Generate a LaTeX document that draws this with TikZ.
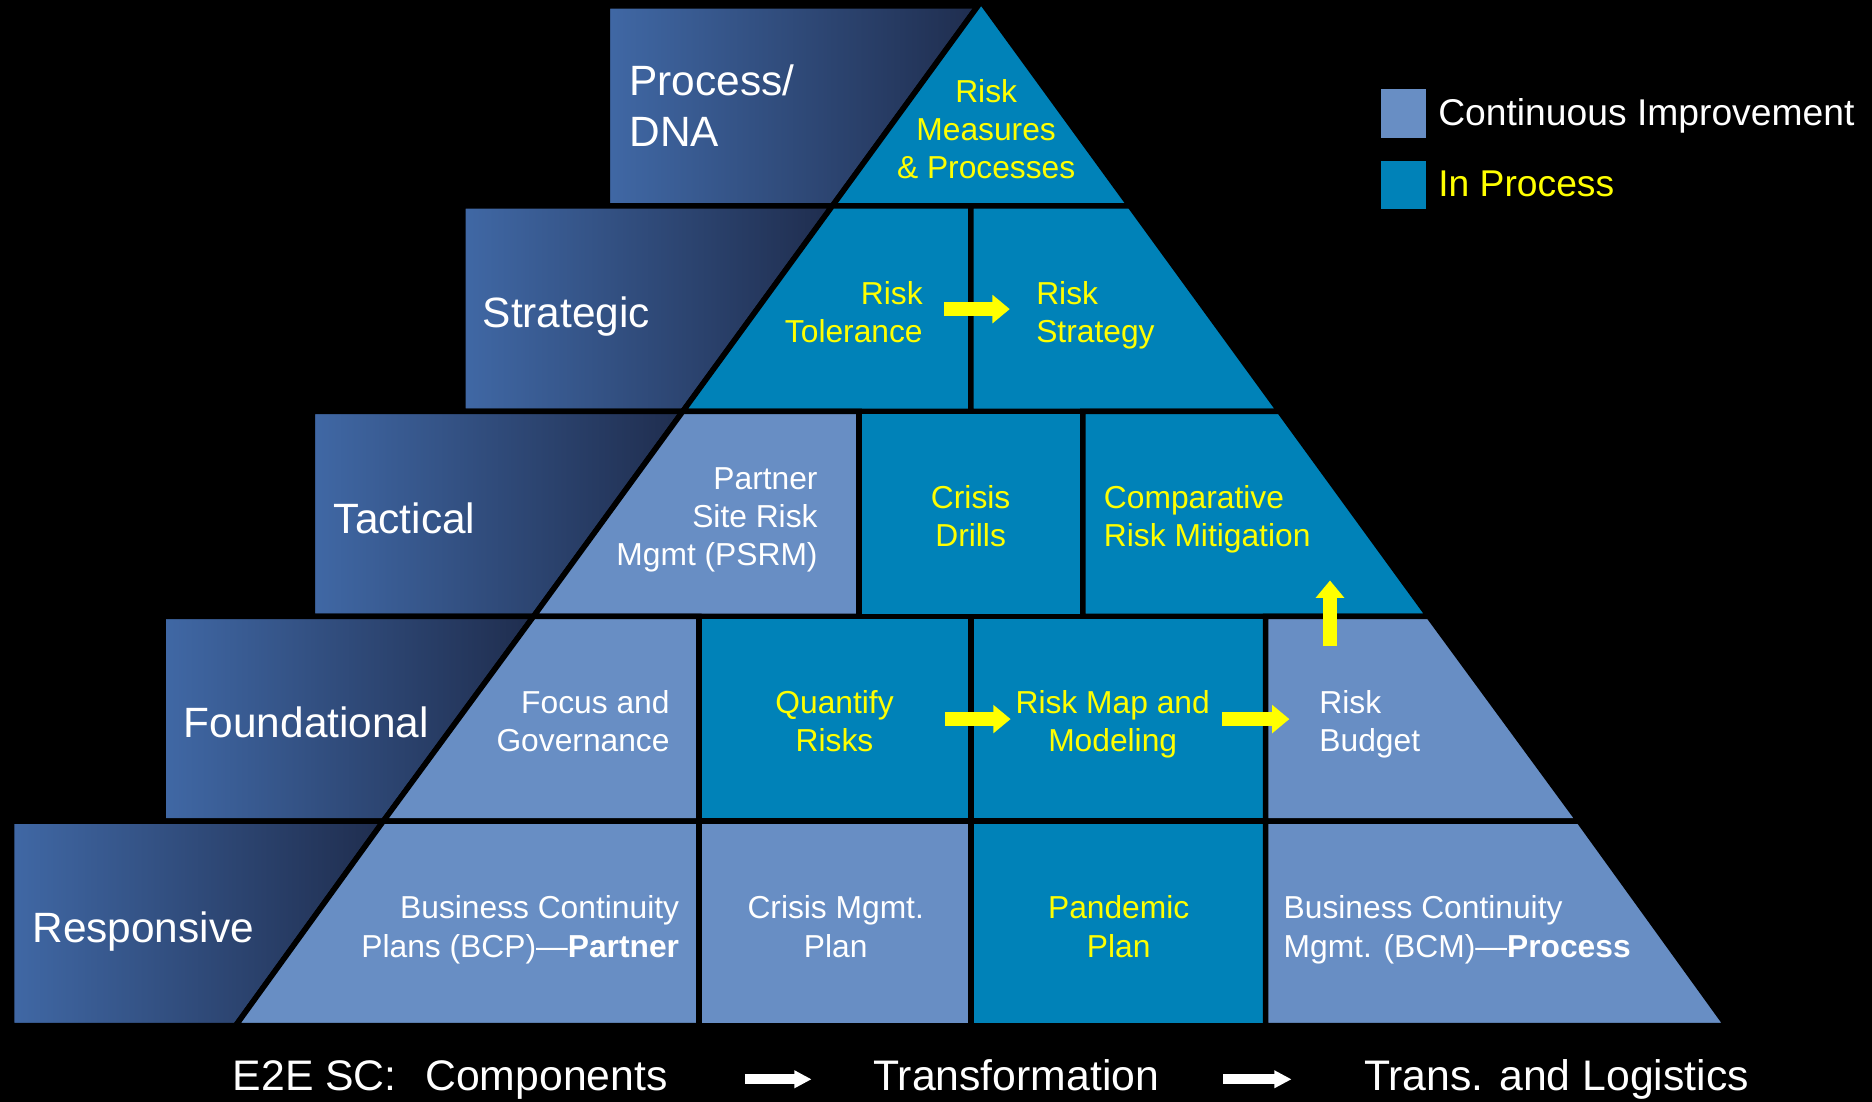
\documentclass[tikz,border=0pt]{standalone}
\usepackage{fontspec}
\setmainfont{Liberation Sans}
\usetikzlibrary{arrows.meta,calc}
\definecolor{inproc}{RGB}{0,130,184}
\definecolor{cont}{RGB}{104,142,196}
\definecolor{gradL}{RGB}{64,104,165}
\definecolor{gradR}{RGB}{31,45,78}
\definecolor{ylw}{RGB}{255,255,0}
\newcommand\mystrut{\strut}
\tikzset{
  cell/.style={draw=black, line width=4.6pt, line join=miter},
  ci/.style={cell, fill=cont},
  ip/.style={cell, fill=inproc},
  lvl/.style={cell, left color=gradL, right color=gradR},
  ctext/.style={inner sep=0pt, font=\fontsize{26.6}{32}\selectfont},
  wt/.style={ctext, text=white},
  yt/.style={ctext, text=ylw},
  lvltext/.style={inner sep=0pt, text=white, font=\fontsize{35.5}{42.5}\selectfont, align=left, anchor=north west},
  legtext/.style={inner sep=0pt, font=\fontsize{31.2}{37}\selectfont, anchor=base west},
  axtext/.style={inner sep=0pt, text=white, font=\fontsize{35.8}{42}\selectfont, anchor=base west},
  yarrow/.style={draw=ylw, line width=12pt, -{Triangle[length=14.5pt, width=23pt]}},
  warrow/.style={draw=white, line width=8.4pt, -{Triangle[length=14.4pt, width=14pt]}},
}
\begin{document}
\begin{tikzpicture}[x=1pt, y=-1pt]
\path[use as bounding box] (0,0) rectangle (1568,923);
\fill[black] (0,0) rectangle (1568,923);

% Row 1
\path[lvl] (508.7,5) -- (819.08,5) -- (697.23,172.4) -- (508.7,172.4) -- cycle;
\path[ip] (821.85,1.2) -- (946.47,172.4) -- (697.23,172.4) -- cycle;
% Row 2
\path[lvl] (387.7,172.4) -- (697.23,172.4) -- (571.96,344.5) -- (387.7,344.5) -- cycle;
\path[ip] (697.23,172.4) -- (813.1,172.4) -- (813.1,344.5) -- (571.96,344.5) -- cycle;
\path[ip] (813.1,172.4) -- (946.47,172.4) -- (1071.74,344.5) -- (813.1,344.5) -- cycle;
% Row 3
\path[lvl] (261.7,344.5) -- (571.96,344.5) -- (446.98,516.2) -- (261.7,516.2) -- cycle;
\path[ci] (571.96,344.5) -- (719.5,344.5) -- (719.5,516.2) -- (446.98,516.2) -- cycle;
\path[ip] (719.5,344.5) -- (907.1,344.5) -- (907.1,516.2) -- (719.5,516.2) -- cycle;
\path[ip] (907.1,344.5) -- (1071.74,344.5) -- (1196.72,516.2) -- (907.1,516.2) -- cycle;
% Row 4
\path[lvl] (136.7,516.2) -- (446.98,516.2) -- (321.07,687.8) -- (136.7,687.8) -- cycle;
\path[ci] (446.98,516.2) -- (585.3,516.2) -- (585.3,687.8) -- (321.07,687.8) -- cycle;
\path[ip] (585.3,516.2) -- (813.3,516.2) -- (813.3,687.8) -- (585.3,687.8) -- cycle;
\path[ip] (813.3,516.2) -- (1060,516.2) -- (1060,687.8) -- (813.3,687.8) -- cycle;
\path[ci] (1060,516.2) -- (1196.72,516.2) -- (1322.63,687.8) -- (1060,687.8) -- cycle;
% Row 5
\path[lvl] (9.7,687.8) -- (321.07,687.8) -- (197.46,859) -- (9.7,859) -- cycle;
\path[ci] (321.07,687.8) -- (585.3,687.8) -- (585.3,859) -- (197.46,859) -- cycle;
\path[ci] (585.3,687.8) -- (813.3,687.8) -- (813.3,859) -- (585.3,859) -- cycle;
\path[ip] (813.3,687.8) -- (1060,687.8) -- (1060,859) -- (813.3,859) -- cycle;
\path[ci] (1060,687.8) -- (1322.63,687.8) -- (1446.24,859) -- (1060,859) -- cycle;

% Level labels
\node[lvltext] (lprocess) at (527,50.4) {\mystrut Process/\\DNA};
\node[lvltext] (lstrat) at (404.2,244.4) {\mystrut Strategic};
\node[lvltext] (ltact) at (279.5,416.9) {\mystrut Tactical};
\node[lvltext] (lfound) at (153.8,587.9) {\mystrut Foundational};
\node[lvltext] (lresp) at (27,759.1) {\mystrut Responsive};

% Cell texts
\node[yt, anchor=north, align=center] (measures) at (826,63.1) {\mystrut Risk\\Measures\\\& Processes\mystrut};
\node[yt, anchor=north east, align=right] (tol) at (773,232.1) {\mystrut Risk\\Tolerance\mystrut};
\node[yt, anchor=north west, align=left] (strat) at (867.8,232.1) {\mystrut Risk\\Strategy\mystrut};
\node[wt, anchor=north east, align=right] (psrm) at (685,387.1) {\mystrut Partner\\Site Risk\\Mgmt (PSRM)\mystrut};
\node[yt, anchor=north, align=center] (drills) at (813,403.1) {\mystrut Crisis\\Drills\mystrut};
\node[yt, anchor=north west, align=left] (mitig) at (924.5,403.1) {\mystrut Comparative\\Risk Mitigation\mystrut};
\node[wt, anchor=north east, align=right] (focus) at (561,575.1) {\mystrut Focus and\\Governance\mystrut};
\node[yt, anchor=north, align=center] (quant) at (699,575.1) {\mystrut Quantify\\Risks\mystrut};
\node[yt, anchor=north, align=center] (map) at (932,575.1) {\mystrut Risk Map and\\Modeling\mystrut};
\node[wt, anchor=north west, align=left] (budget) at (1105,575.1) {\mystrut Risk\\Budget\mystrut};
\node[wt, anchor=north east, align=right] (bcp) at (569,747.1) {\mystrut Business Continuity\\Plans (BCP)—\textbf{Partner}\mystrut};
\node[wt, anchor=north, align=center] (cmp) at (700,747.1) {\mystrut Crisis Mgmt.\\Plan\mystrut};
\node[yt, anchor=north, align=center] (pandemic) at (937,747.1) {\mystrut Pandemic\\Plan\mystrut};
\node[wt, anchor=north west, align=left] (bcm) at (1075,747.1) {\mystrut Business Continuity\\Mgmt. (BCM)—\textbf{Process}\mystrut};

% Yellow arrows
\draw[yarrow] ([shift={(17.5,-5.4)}]tol.east) -- ([shift={(-22,-5.4)}]strat.west);
\draw[yarrow] ([shift={(42.7,-5)}]quant.east) -- ([shift={(-4,-5)}]map.west);
\draw[yarrow] ([shift={(10,-5)}]map.east) -- ([shift={(-25,-5)}]budget.west);
\draw[yarrow] ([shift={(9,-34)}]budget.north west) -- ([shift={(189.5,18.7)}]mitig.south west);

% Legend
\fill[cont] (1156.4,74.8) rectangle (1194.4,115.9);
\fill[inproc] (1156.4,134.6) rectangle (1194.4,175);
\node[legtext, text=white] (legci) at (1204.5,105) {Continuous Improvement};
\node[legtext, text=ylw] (legip) at (1204.5,164.7) {In Process};

% Bottom axis
\node[axtext] (e2e) at (194.8,913) {\mystrut E2E SC:\hspace{24pt}Components};
\node[axtext] (transf) at (731.3,913) {\mystrut Transformation};
\node[axtext] (logist) at (1142.3,913) {\mystrut Trans. and Logistics};
\draw[warrow] ([shift={(64.5,-0.6)}]e2e.east) -- ([shift={(-51.5,-0.6)}]transf.west);
\draw[warrow] ([shift={(53.5,-0.6)}]transf.east) -- ([shift={(-60.5,-0.6)}]logist.west);
\end{tikzpicture}
\end{document}
